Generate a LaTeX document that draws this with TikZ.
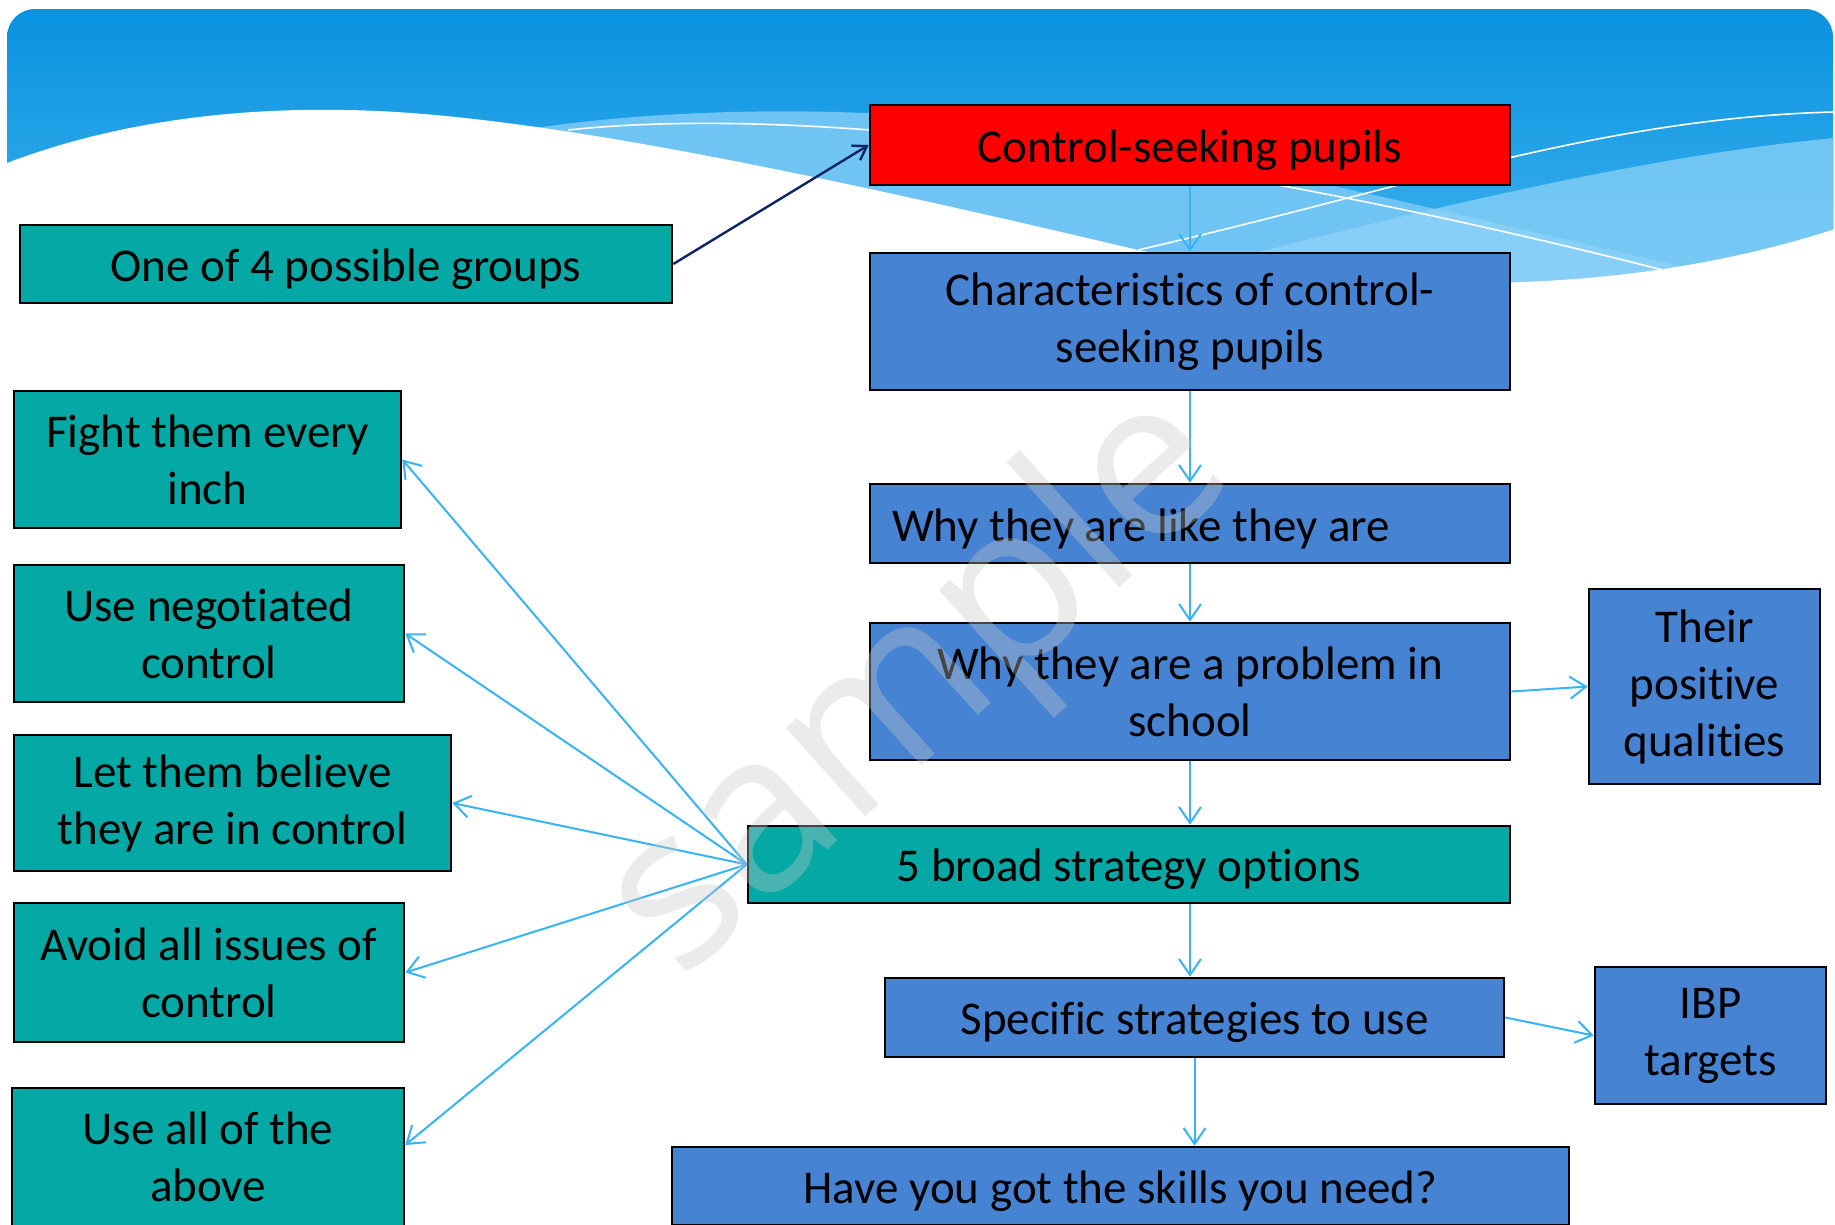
\documentclass[tikz,border=0pt]{standalone}
\usepackage{fontspec}
\setmainfont{Carlito}[RawFeature={-liga;-clig;-calt;-dlig;-rlig}]
\newfontfamily\wmfont{Open Sans}
\usetikzlibrary{arrows.meta}
\definecolor{skytop}{RGB}{8,146,224}
\definecolor{skylow}{RGB}{75,185,240}
\definecolor{bandA}{RGB}{112,196,243}
\definecolor{bandB}{RGB}{145,212,248}
\definecolor{boxteal}{RGB}{4,168,164}
\definecolor{boxblue}{RGB}{70,131,211}
\definecolor{arrblue}{RGB}{56,180,246}
\definecolor{navy}{RGB}{14,36,104}
\definecolor{wmgray}{RGB}{200,200,200}

\begin{document}
\begin{tikzpicture}[x=1pt,y=-1pt,>={Straight Barb[length=16pt,width=22pt]}]
\tikzset{box/.style={draw=black,line width=2.6pt,inner sep=0pt,align=center,
    font=\fontsize{47}{57}\selectfont,execute at begin node={\rule{0pt}{43pt}}},
  tealbox/.style={box,fill=boxteal},
  bluebox/.style={box,fill=boxblue},
  redbox/.style={box,fill=red},
  flow/.style={draw=arrblue,line width=2pt,->},
  lnk/.style={draw=navy,line width=2.4pt,->,>={Straight Barb[length=13pt,width=17pt]}}}
\useasboundingbox (0,0) rectangle (1835,1224);
\fill[white] (0,0) rectangle (1835,1224);
% ================= banner =================
\shade[top color=skytop,bottom color=skylow,rounded corners=28pt]
  (7,340) -- (7,9) -- (1833,9) -- (1833,340) -- cycle;
\fill[bandA] (430,150) .. controls (550,115) and (750,105) .. (900,115)
  .. controls (1200,140) and (1500,230) .. (1834,300) -- (1834,345) -- (430,345) -- cycle;
\fill[bandB,opacity=0.7] (1000,320) .. controls (1300,240) and (1600,160) .. (1834,138)
  -- (1834,345) -- cycle;
\fill[white] (0,166) -- (7,163) .. controls (120,120) and (240,108) .. (344,110)
  .. controls (520,112) and (800,170) .. (1138,250)
  .. controls (1350,290) and (1600,305) .. (1835,229) -- (1835,350) -- (0,350) -- cycle;
\draw[white,line width=1.6pt] (568,130) .. controls (800,105) and (1200,150) .. (1690,277);
\draw[white,line width=1.6pt] (1138,250) .. controls (1400,190) and (1600,118) .. (1834,112);
% ================= main column =================
\node[redbox,minimum width=640pt,minimum height=80pt] (ctrl) at (1190,145) {Control-seeking pupils};
\node[tealbox,minimum width=652pt,minimum height=78pt] (grp) at (346,264) {One of 4 possible groups};
\node[bluebox,minimum width=640pt,minimum height=137pt] (chars) at (1190,321.5) {Characteristics of control-\\seeking pupils};
\node[bluebox,minimum width=640pt,minimum height=79pt,text width=596pt,align=flush left] (why) at (1190,523.5) {Why they are like they are};
\node[bluebox,minimum width=640pt,minimum height=137pt] (prob) at (1190,691.5) {Why they are a problem in\\school};
\node[bluebox,minimum width=231pt,minimum height=195pt] (pos) at (1704.5,686.5) {Their\\positive\\qualities};
\node[tealbox,minimum width=762pt,minimum height=77pt] (broad) at (1129,864.5) {5 broad strategy options};
\node[bluebox,minimum width=619pt,minimum height=79pt] (spec) at (1194.5,1017.5) {Specific strategies to use};
\node[bluebox,minimum width=231pt,minimum height=137pt] (ibp) at (1710.5,1035.5) {IBP\\targets};
\node[bluebox,minimum width=897pt,minimum height=78pt] (skills) at (1120.5,1186) {Have you got the skills you need?};
% ================= strategy options =================
\node[tealbox,minimum width=387pt,minimum height=137pt] (fight) at (207.5,459.5) {Fight them every\\inch};
\node[tealbox,minimum width=390pt,minimum height=137pt] (nego) at (209,633.5) {Use negotiated\\control};
\node[tealbox,minimum width=437pt,minimum height=136pt] (let) at (232.5,803) {Let them believe\\they are in control};
\node[tealbox,minimum width=390pt,minimum height=139pt] (avoid) at (209,972.5) {Avoid all issues of\\control};
\node[tealbox,minimum width=392pt,minimum height=138pt] (usea) at (208,1157) {Use all of the\\above};
% ---------- connectors ----------
\draw[lnk] (grp.east) -- (ctrl.west);
\draw[flow] (ctrl.south) -- (chars.north);
\draw[flow] (chars.south) -- (why.north);
\draw[flow] (why.south) -- (prob.north);
\draw[flow] (prob.south) -- (prob.south |- broad.north);
\draw[flow] (broad.south -| prob.south) -- (spec.north -| prob.south);
\draw[flow] (spec.south) -- (spec.south |- skills.north);
\draw[flow] (prob.east) -- (pos.west);
\draw[flow] (spec.east) -- (ibp.west);
\foreach \t in {fight,nego,let,avoid}{\draw[flow] (broad.west) -- (\t.east);}
\draw[flow] (broad.west) -- ([yshift=12pt]usea.east);
% ---------- watermark ----------
\node[rotate=42,text=wmgray,opacity=0.35,inner sep=0pt,font=\wmfont\fontsize{222}{222}\selectfont] (wm) at (922,688) {sample};
\end{tikzpicture}
\end{document}
